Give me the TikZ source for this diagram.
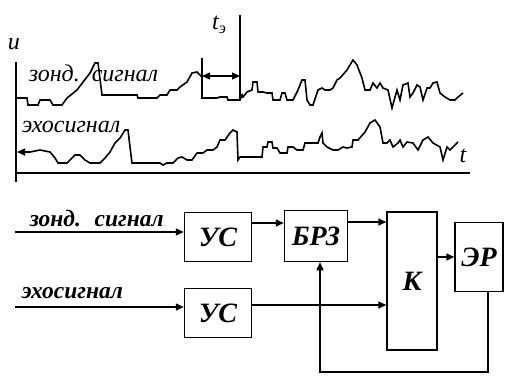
\documentclass[tikz,border=0pt]{standalone}
\usepackage{fontspec}
\setmainfont{Liberation Serif}
\usetikzlibrary{arrows.meta,positioning}

\begin{document}
\begin{tikzpicture}[x=1pt,y=-1pt,line width=1.5pt,
  >={Triangle[length=8pt,width=7pt]},
  blk/.style={draw,minimum width=67pt,minimum height=49pt,inner sep=0pt,
    font=\fontsize{28}{30}\selectfont\bfseries\itshape},
  lbl/.style={inner sep=0pt,font=\fontsize{24}{26}\selectfont\itshape},
  blbl/.style={lbl,font=\fontsize{23.5}{25}\selectfont\bfseries\itshape},
  sig/.style={line join=miter,line width=1.6pt}]
\useasboundingbox (0,0) rectangle (505,376);
% waveforms
\draw (16,62) -- (16,182);
\draw (16,173) -- (470,173);
\node[lbl] (uax) at (14,44) {u};
\node[lbl] (tax) at (463,156) {t};
\draw[sig] (16,98) -- (27,98) -- (28,105) -- (38,105) -- (40,100) -- (50,100) -- (53,105)
  -- (62,105) -- (67,98) -- (77,90) -- (90,73) -- (95,63) -- (98,63) -- (102,95) -- (137,95)
  -- (138,98) -- (157,98) -- (160,95) -- (167,95) -- (170,90) -- (177,90) -- (180,87)
  -- (187,82) -- (192,73) -- (197,72) -- (202,77) -- (202,98) -- (217,98) -- (220,97)
  -- (227,97) -- (228,100) -- (240,100) -- (242,95) -- (243,97) -- (247,92) -- (252,90)
  -- (253,82) -- (257,82) -- (258,92) -- (263,92) -- (267,93) -- (272,93) -- (273,100)
  -- (280,100) -- (282,93) -- (285,93) -- (287,100) -- (293,100) -- (298,90) -- (302,80)
  -- (305,80) -- (307,100) -- (310,105) -- (313,105) -- (318,90) -- (322,88) -- (325,90)
  -- (330,90) -- (333,88) -- (337,80) -- (340,78) -- (347,70) -- (353,60) -- (357,65)
  -- (362,78) -- (365,90) -- (370,90) -- (373,83) -- (377,88) -- (380,83) -- (383,88)
  -- (388,90) -- (392,108) -- (397,90) -- (400,100) -- (403,85) -- (408,83) -- (410,97)
  -- (413,93) -- (417,85) -- (420,87) -- (423,100) -- (427,88) -- (430,88) -- (433,83)
  -- (437,82) -- (440,93) -- (445,97) -- (450,100) -- (455,100) -- (458,97) -- (463,93);
\draw[sig,<-] (17,152) -- (30,152) -- (40,150) -- (50,152) -- (55,158) -- (58,163) -- (67,163)
  -- (72,158) -- (75,155) -- (80,155) -- (85,160) -- (90,163) -- (100,163) -- (105,158)
  -- (110,152) -- (115,143) -- (120,138) -- (125,130) -- (128,130) -- (130,147) -- (132,163)
  -- (160,163) -- (163,165) -- (167,163) -- (173,163) -- (178,158) -- (182,157) -- (187,160)
  -- (192,160) -- (197,153) -- (203,153) -- (207,150) -- (213,150) -- (217,147) -- (220,140)
  -- (225,140) -- (230,133) -- (233,130) -- (237,132) -- (238,160) -- (240,157) -- (262,157)
  -- (263,147) -- (267,147) -- (268,142) -- (272,142) -- (273,148) -- (277,148) -- (280,153)
  -- (287,153) -- (288,147) -- (293,147) -- (297,150) -- (303,150) -- (305,143) -- (318,143)
  -- (320,137) -- (322,133) -- (323,143) -- (327,147) -- (333,150) -- (338,150) -- (343,147)
  -- (347,148) -- (352,147) -- (353,140) -- (358,140) -- (365,132) -- (370,123) -- (375,120)
  -- (380,127) -- (383,143) -- (387,143) -- (390,140) -- (393,147) -- (398,143) -- (400,140)
  -- (403,147) -- (407,142) -- (413,143) -- (418,150) -- (423,140) -- (428,137) -- (433,143)
  -- (440,147) -- (443,160) -- (447,147) -- (450,150) -- (453,147) -- (458,142);
\node[lbl,anchor=west] (zond1) at (28,73) {зонд. \,сигнал};
\node[lbl,anchor=west] (echo1) at (21,127) {эхосигнал};
% delay marker
\coordinate (mA) at (202,58);
\coordinate (mB) at (240,15);
\coordinate (mC) at (240,100);
\draw (mA) -- (202,98);
\draw (mB) -- (mC);
\draw[<->] (202,76) -- (240,76);
\node[lbl] (tdel) at (219,25) {t\raisebox{-4pt}{\fontsize{16}{16}\selectfont э}};
% block diagram
\node[blk] (us1) at (218,237) {УС};
\node[blk] (us2) at (218,313) {УС};
\node[blk,minimum width=63pt,minimum height=51pt] (brz) at (316,236) {БРЗ};
\node[blk,minimum width=50pt,minimum height=138pt] (k) at (412,281) {К};
\node[blk,minimum width=48pt,minimum height=69pt] (er) at (479,257) {ЭР};
\coordinate (in1) at (15,232);
\coordinate (in2) at (15,307);
\node[blbl,anchor=south west] (zond2) at (29,228) {зонд. \ сигнал};
\node[blbl,anchor=south west] (echo2) at (21,300) {эхосигнал};
\draw[->] (in1) -- (in1 -| us1.west);
\draw[->] (in2) -- (in2 -| us2.west);
\draw[->] (us1.east |- 0,223) -- (brz.west |- 0,223);
\draw[->] (brz.east |- 0,222) -- (k.west |- 0,222);
\draw[->] (us2.east |- 0,305) -- (k.west |- 0,305);
\draw[->] (k.east |- 0,257) -- (er.west |- 0,257);
\draw[->] (er.south -| 488,0) -- (488,372) -- (320,372) -- (brz.south -| 320,0);
\end{tikzpicture}
\end{document}
